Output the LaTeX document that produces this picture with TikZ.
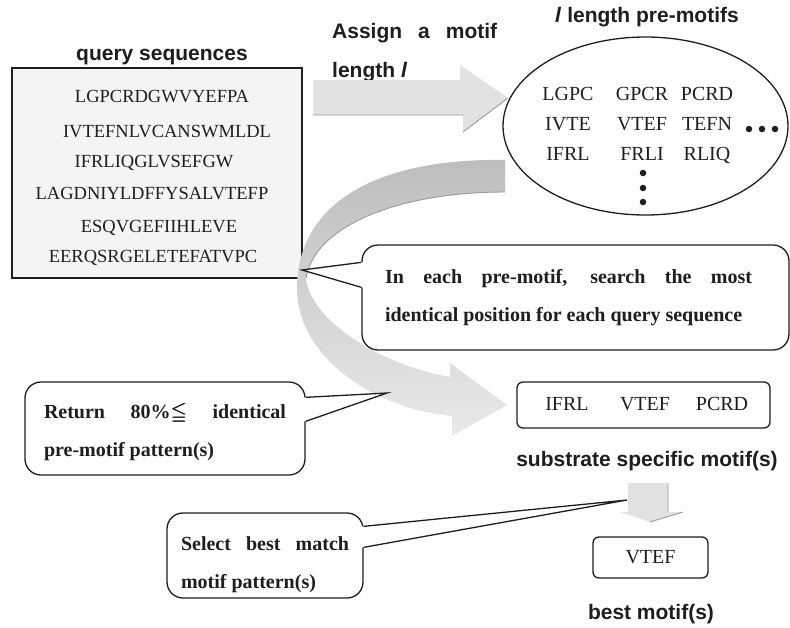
\documentclass[tikz,border=0pt]{standalone}
\usepackage{fontspec}
\usepackage{amssymb}
\setmainfont{Liberation Serif}
\newfontfamily\lsans{Liberation Sans}
\usetikzlibrary{shapes.geometric,calc}
\definecolor{arrowgray}{HTML}{E2E2E2}
\definecolor{arrowtop}{HTML}{BDBDBD}
\definecolor{arrowbot}{HTML}{E9E9E9}
\definecolor{edgegray}{HTML}{9A9A9A}
\definecolor{boxfill}{HTML}{F4F4F4}
\definecolor{ink}{HTML}{1E1E1E}
\newcommand{\boldleqq}{\rlap{$\leqq$}\kern0.5pt\rlap{$\leqq$}\kern0.5pt$\leqq$}
\begin{document}
\begin{tikzpicture}[x=1pt,y=-1pt,
  lab/.style={font=\lsans\bfseries\fontsize{21}{24}\selectfont, inner sep=0pt, text=ink},
  seqtxt/.style={font=\fontsize{18.5}{20}\selectfont, inner sep=0pt, anchor=base, text=ink},
  motiftxt/.style={font=\fontsize{20}{22}\selectfont, inner sep=0pt, anchor=base, text=ink},
  callout/.style={draw=ink, line width=1.3pt, fill=white, rounded corners=16pt, inner sep=0pt, align=left, font=\bfseries\fontsize{20}{38}\selectfont, text=ink},
  smallbox/.style={draw=ink, line width=1.3pt, fill=white, rounded corners=6pt, inner sep=0pt},
  dotmark/.style={circle, fill=ink, inner sep=0pt, minimum size=6.5pt},
  pointer/.style={draw=ink, line width=1.3pt, line join=miter},
  blockarrow/.style={fill=arrowgray},
  shadeline/.style={draw=edgegray, line width=0.9pt},
]
\useasboundingbox (0,0) rectangle (790,627);

% query sequences
\node[lab, anchor=base] (qlab) at (162,60) {query sequences};
\node[draw=ink, line width=1.5pt, fill=boxfill, minimum width=290pt, minimum height=210pt, inner sep=0pt] (qbox) at (157,173) {};
\node[seqtxt] (s1) at (162,102) {LGPCRDGWVYEFPA};
\node[seqtxt] (s2) at (167,137) {IVTEFNLVCANSWMLDL};
\node[seqtxt] (s3) at (154,167) {IFRLIQGLVSEFGW};
\node[seqtxt] (s4) at (152,199) {LAGDNIYLDFFYSALVTEFP};
\node[seqtxt] (s5) at (159,232) {ESQVGEFIIHLEVE};
\node[seqtxt] (s6) at (153,262) {EERQSRGELETEFATVPC};

% assign label
\node[lab, anchor=base west] (assign1) at (332,38) {\makebox[165pt][s]{Assign a motif}};
\node[lab, anchor=base west] (assign2) at (332,77) {length \textit{l}};

% straight block arrow
\path[blockarrow] (313,80) -- (460,80) -- (460,65) -- (508,98) -- (463,132) -- (463,115) -- (313,115) -- cycle;
\draw[shadeline] (313,115) -- (463,115) (463,132) -- (508,98);

% pre-motif ellipse
\node[lab, anchor=base] (prelab) at (647,22) {\textit{l} length pre-motifs};
\node[ellipse, draw=ink, line width=1.3pt, fill=white, minimum width=285pt, minimum height=178pt, inner sep=0pt] (pre) at (645.5,126) {};
\node[motiftxt] (m11) at (568,100) {LGPC};
\node[motiftxt] (m12) at (642,100) {GPCR};
\node[motiftxt] (m13) at (707,100) {PCRD};
\node[motiftxt] (m21) at (568,130) {IVTE};
\node[motiftxt] (m22) at (642,130) {VTEF};
\node[motiftxt] (m23) at (707,130) {TEFN};
\node[motiftxt] (m31) at (568,160) {IFRL};
\node[motiftxt] (m32) at (642,160) {FRLI};
\node[motiftxt] (m33) at (707,160) {RLIQ};
\node[dotmark] (v1) at (643,173) {};
\node[dotmark] (v2) at (643,188) {};
\node[dotmark] (v3) at (643,202) {};
\node[dotmark] (h1) at (749,129) {};
\node[dotmark] (h2) at (762,129) {};
\node[dotmark] (h3) at (775,129) {};

% curved block arrow
\shade[top color=arrowtop, bottom color=arrowbot]
  (505,160) .. controls (390,158) and (300,195) .. (297,285)
  .. controls (295,360) and (380,410) .. (452,416)
  -- (452,436) -- (507,405) -- (450,363) -- (450,377)
  .. controls (380,365) and (310,320) .. (306,278)
  .. controls (315,225) and (400,192) .. (505,192) -- cycle;
\draw[shadeline] (306,278) .. controls (315,225) and (400,192) .. (505,192);

% callout 1
\node[callout, minimum width=427pt, minimum height=105pt] (co1) at (575.5,297.5)
  {\makebox[381pt][l]{\makebox[367pt][s]{In each pre-motif, search the most}}\\identical position for each query sequence};
\coordinate (tip1) at (302,270);
\fill[white] ([xshift=2pt,yshift=-18pt]co1.north west) -- ([yshift=-18pt]co1.north west) -- (tip1) -- ([yshift=-43pt]co1.north west) -- ([xshift=2pt,yshift=-43pt]co1.north west) -- cycle;
\draw[pointer] ([yshift=-18pt]co1.north west) -- (tip1) -- ([yshift=-43pt]co1.north west);

% callout 2
\node[callout, minimum width=280pt, minimum height=93pt] (co2) at (165,428.5)
  {\rule{0pt}{22pt}\makebox[242pt][s]{Return 80\%\boldleqq{} identical}\\pre-motif pattern(s)};
\coordinate (tip2) at (387,393);
\fill[white] ([xshift=-2pt,yshift=-16pt]co2.north east) -- ([yshift=-16pt]co2.north east) -- (tip2) -- ([yshift=-40pt]co2.north east) -- ([xshift=-2pt,yshift=-40pt]co2.north east) -- cycle;
\draw[pointer] ([yshift=-16pt]co2.north east) -- (tip2) -- ([yshift=-40pt]co2.north east);

% substrate specific motifs
\node[smallbox, minimum width=253pt, minimum height=46pt] (sub) at (643.5,405) {};
\node[motiftxt] (b1) at (567,410) {IFRL};
\node[motiftxt] (b2) at (645,410) {VTEF};
\node[motiftxt] (b3) at (722,410) {PCRD};
\node[lab, anchor=base] (sublab) at (647,466) {substrate specific motif(s)};

% down arrow
\path[blockarrow] (628,483) -- (668,483) -- (668,512) -- (683,512) -- (650,522) -- (620,512) -- (628,512) -- cycle;
\draw[shadeline] (668,483) -- (668,512) (683,512) -- (650,522);

% best motif
\node[smallbox, minimum width=115pt, minimum height=41pt, font=\fontsize{20}{22}\selectfont, text=ink] (best) at (650.5,557.5) {VTEF};
\node[lab, anchor=base] (bestlab) at (651,619) {best motif(s)};

% callout 3
\node[callout, minimum width=196pt, minimum height=85pt] (co3) at (265,555.5)
  {\rule{0pt}{32pt}\makebox[168pt][s]{Select best match}\\motif pattern(s)};
\coordinate (tip3) at (627,500);
\fill[white] ([xshift=-2pt,yshift=-14pt]co3.north east) -- ([yshift=-14pt]co3.north east) -- (tip3) -- ([yshift=-35pt]co3.north east) -- ([xshift=-2pt,yshift=-35pt]co3.north east) -- cycle;
\draw[pointer] ([yshift=-14pt]co3.north east) -- (tip3) -- ([yshift=-35pt]co3.north east);
\end{tikzpicture}
\end{document}
